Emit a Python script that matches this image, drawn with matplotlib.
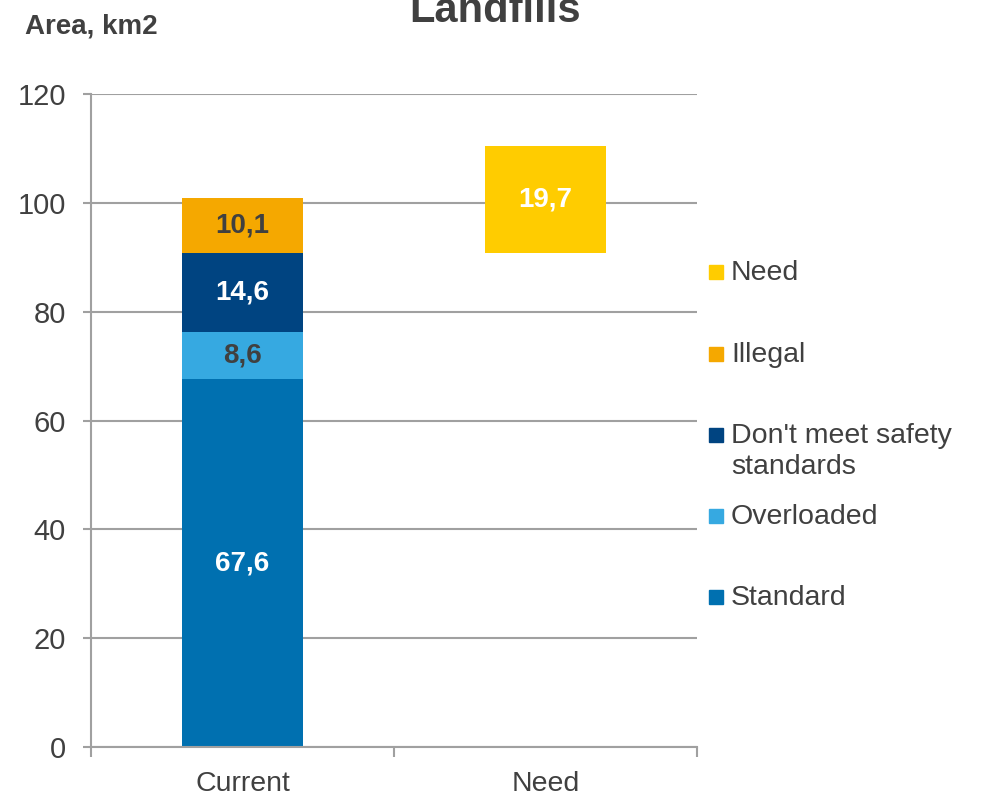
import matplotlib
matplotlib.use("Agg")
import matplotlib.pyplot as plt
from matplotlib.patches import Rectangle

plt.rcParams["font.family"] = ["Liberation Sans", "DejaVu Sans"]

categories = ["Current", "Need"]
series_names = ["Standard", "Overloaded", "Don't meet safety\nstandards", "Illegal"]
current_values = [67.6, 8.6, 14.6, 10.1]
series_colors = ["#0070B0", "#36A9E1", "#004481", "#F5A800"]
label_colors = ["white", "#404040", "white", "#404040"]
need_value = 19.7
need_bottom = 90.8
need_color = "#FFCC00"
yticks = [0, 20, 40, 60, 80, 100, 120]

TEXT = "#404040"
GRID = "#A0A0A0"
W, H = 982, 797

fig = plt.figure(figsize=(W / 100, H / 100), dpi=100)
ax = fig.add_axes([91 / W, 1 - 747 / H, (697 - 91) / W, (747 - 94) / H])

bar_w = 0.40
bottom = 0.0
for val, col, lcol in zip(current_values, series_colors, label_colors):
    ax.bar(0, val, bottom=bottom, width=bar_w, color=col, zorder=2)
    ax.text(0, bottom + val / 2, f"{val:.1f}".replace(".", ","), ha="center",
            va="center", color=lcol, fontsize=20, fontweight="bold", zorder=3)
    bottom += val

ax.bar(1, need_value, bottom=need_bottom, width=bar_w, color=need_color, zorder=2)
ax.text(1, need_bottom + need_value / 2, f"{need_value:.1f}".replace(".", ","),
        ha="center", va="center", color="white", fontsize=20, fontweight="bold", zorder=3)

ax.set_xlim(-0.5, 1.5)
ax.set_ylim(0, 120)
ax.set_yticks(yticks)
ax.yaxis.grid(True, color=GRID, linewidth=1.5, zorder=0)
ax.set_axisbelow(True)
ax.set_xticks([0, 1])
ax.set_xticklabels(categories)
ax.set_xticks([-0.5, 0.5, 1.5], minor=True)
ax.tick_params(axis="x", which="major", length=0, pad=17, labelsize=20.5, labelcolor=TEXT)
ax.tick_params(axis="x", which="minor", length=7, width=1.5, color=GRID)
ax.tick_params(axis="y", length=6, width=1.5, color=GRID, pad=12, labelsize=21,
               labelcolor=TEXT)
for s in ["top", "right"]:
    ax.spines[s].set_visible(False)
for s in ["left", "bottom"]:
    ax.spines[s].set_color(GRID)
    ax.spines[s].set_linewidth(1.5)

fig.text(495 / W, 1 - 22 / H, "Landfills", ha="center", va="baseline",
         fontsize=30, fontweight="bold", color=TEXT)
fig.text(25 / W, 1 - 27 / H, "Area, km2", ha="left", va="center",
         fontsize=20, fontweight="bold", color=TEXT)

# legend, drawn by hand to keep the even spacing
leg_names = ["Need"] + series_names[::-1]
leg_colors = [need_color] + series_colors[::-1]
leg_y = [272, 354, 435, 516, 597]
for name, col, y in zip(leg_names, leg_colors, leg_y):
    fig.patches.append(Rectangle((709 / W, 1 - (y + 7) / H), 14 / W, 14 / H,
                                 transform=fig.transFigure, color=col))
    fig.text(731 / W, 1 - (y - 12) / H, name, ha="left", va="top",
             fontsize=20.5, color=TEXT, linespacing=1.25)

fig.savefig("out.png", dpi=100)
